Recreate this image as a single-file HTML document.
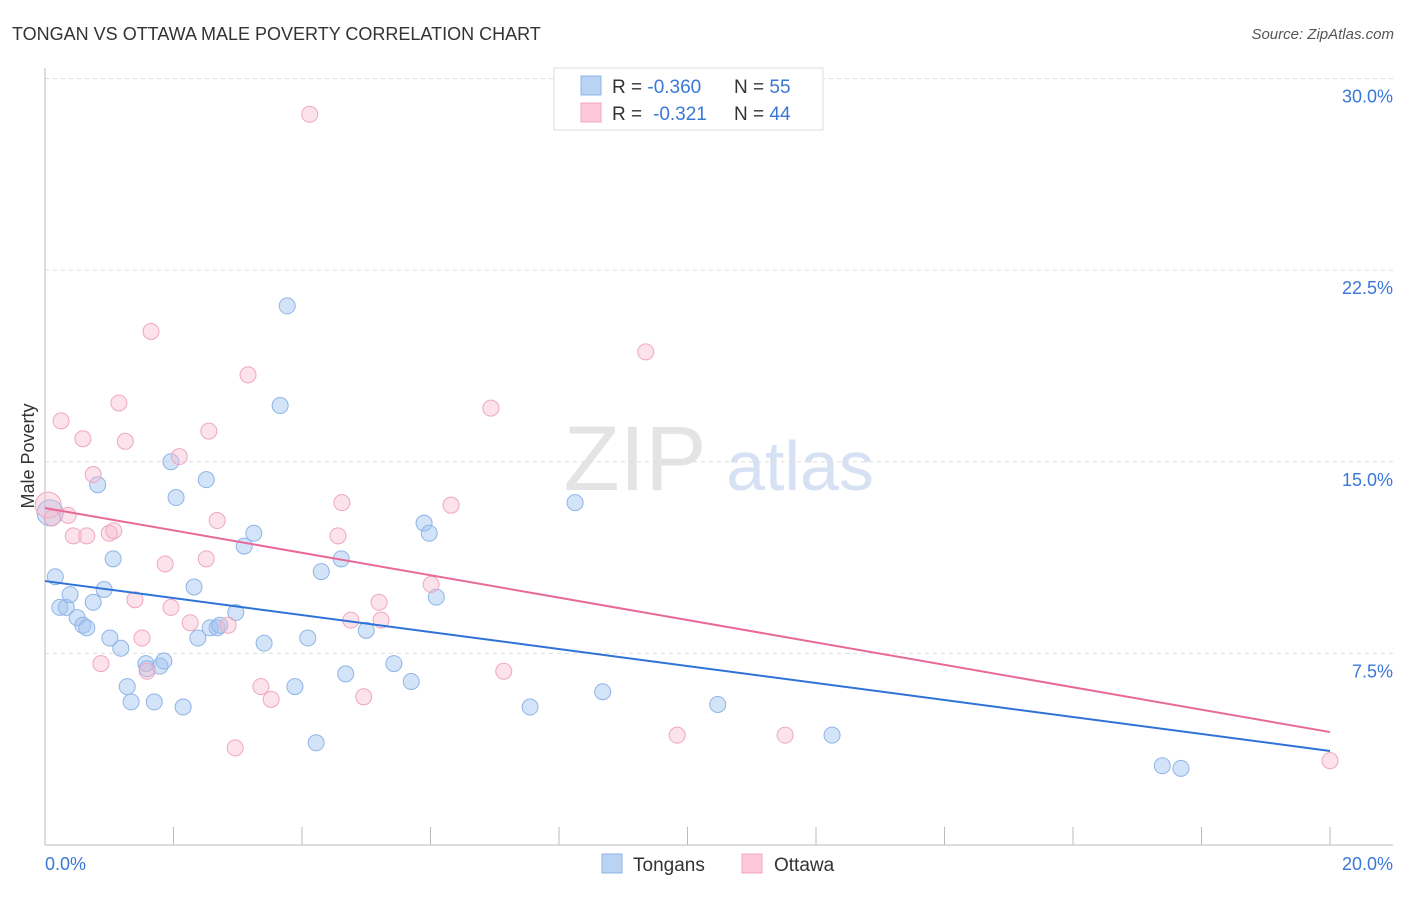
<!DOCTYPE html>
<html><head><meta charset="utf-8"><style>
body{margin:0;background:#fff;font-family:"Liberation Sans",sans-serif;}
svg text{font-family:"Liberation Sans",sans-serif;}
</style></head><body>
<svg id="chart" width="1406" height="892" xmlns="http://www.w3.org/2000/svg">
<text x="12" y="40" font-size="18" fill="#333">TONGAN VS OTTAWA MALE POVERTY CORRELATION CHART</text>
<text x="1394" y="39" font-size="15" fill="#555" font-style="italic" text-anchor="end">Source: ZipAtlas.com</text>
<g>
<text x="635" y="490" font-size="92" font-family="Liberation Serif" fill="#e4e4e4" text-anchor="middle">ZIP</text>
<text x="800" y="490" font-size="70" fill="#d6e2f3" text-anchor="middle">atlas</text>
</g>
<g id="grid"></g>
<g id="axes"></g>
<g id="marks"></g>
<g>
<rect x="554" y="68" width="269" height="62" fill="#fff" stroke="#ddd"/>
<rect x="581" y="76" width="20" height="19" fill="#b9d3f5" stroke="#8fb4e6"/>
<rect x="581" y="103" width="20" height="19" fill="#fbc9d7" stroke="#f0a6bf"/>
<text x="612" y="93" font-size="19" fill="#333">R = <tspan fill="#3a78d8">-0.360</tspan></text>
<text x="734" y="93" font-size="19" fill="#333">N = <tspan fill="#3a78d8">55</tspan></text>
<text x="612" y="120" font-size="19" fill="#333">R = </text>
<text x="653" y="120" font-size="19" fill="#3a78d8">-0.321</text>
<text x="734" y="120" font-size="19" fill="#333">N = <tspan fill="#3a78d8">44</tspan></text>
</g>
<g>
<rect x="602" y="854" width="20" height="19" fill="#b9d3f5" stroke="#8fb4e6"/>
<text x="633" y="871" font-size="19" fill="#333">Tongans</text>
<rect x="742" y="854" width="20" height="19" fill="#fbc9d7" stroke="#f0a6bf"/>
<text x="774" y="871" font-size="19" fill="#333">Ottawa</text>
</g>
<text transform="translate(34,456) rotate(-90)" font-size="18" fill="#333" text-anchor="middle">Male Poverty</text>
</svg>
<script>
const blueX=[0.08,0.16,0.23,0.33,0.39,0.50,0.59,0.65,0.75,0.82,0.92,1.01,1.06,1.18,1.28,1.34,1.57,1.59,1.70,1.79,1.85,1.96,2.04,2.15,2.32,2.38,2.51,2.57,2.68,2.72,2.97,3.10,3.25,3.41,3.77,3.66,3.89,4.09,4.22,4.30,4.61,4.68,5.00,5.43,5.70,5.90,5.98,6.09,7.55,8.25,8.68,10.47,12.25,17.39,17.68];
const blueY=[13.0,10.5,9.3,9.3,9.8,8.9,8.6,8.5,9.5,14.1,10.0,8.1,11.2,7.7,6.2,5.6,7.1,6.9,5.6,7.0,7.2,15.0,13.6,5.4,10.1,8.1,14.3,8.5,8.5,8.6,9.1,11.7,12.2,7.9,21.1,17.2,6.2,8.1,4.0,10.7,11.2,6.7,8.4,7.1,6.4,12.6,12.2,9.7,5.4,13.4,6.0,5.5,4.3,3.1,3.0];
const pinkX=[0.05,0.11,0.25,0.36,0.44,0.59,0.65,0.75,0.87,1.0,1.07,1.15,1.25,1.40,1.51,1.59,1.65,1.87,1.96,2.09,2.26,2.51,2.55,2.68,2.85,2.96,3.16,3.36,3.52,4.12,4.56,4.62,4.76,4.96,5.20,5.23,6.01,6.32,6.94,7.14,9.35,9.84,11.52,20.0];
const pinkY=[13.3,12.8,16.6,12.9,12.1,15.9,12.1,14.5,7.1,12.2,12.3,17.3,15.8,9.6,8.1,6.8,20.1,11.0,9.3,15.2,8.7,11.2,16.2,12.7,8.6,3.8,18.4,6.2,5.7,28.6,12.1,13.4,8.8,5.8,9.5,8.8,10.2,13.3,17.1,6.8,19.3,4.3,4.3,3.3];
const blueTrend=[10.33,3.68];
const pinkTrend=[13.19,4.42];
const yTicks=[7.5,15,22.5,30];
const yTickLabels=["7.5%","15.0%","22.5%","30.0%"];
const xTicksCount=10;

const NS="http://www.w3.org/2000/svg";
const sx=v=>45+v/20*1285;
const sy=v=>845-v*25.55;
function mk(tag,attrs,parent){const e=document.createElementNS(NS,tag);for(const k in attrs)e.setAttribute(k,attrs[k]);parent.appendChild(e);return e;}
const grid=document.getElementById('grid'),axes=document.getElementById('axes'),marks=document.getElementById('marks');
yTicks.forEach((t,i)=>{
  const l=mk('line',{x1:45,x2:1393,y1:sy(t),y2:sy(t),stroke:'#ddd','stroke-dasharray':'4,4'},grid);
  
  
  const tx=mk('text',{x:1393,y:sy(t)+24,'font-size':18,fill:'#3a78d8','text-anchor':'end'},axes);
  tx.textContent=yTickLabels[i];
  
  
});
let a=mk('line',{x1:45,x2:45,y1:68,y2:845,stroke:'#bbb'},axes);


a=mk('line',{x1:45,x2:1393,y1:845,y2:845,stroke:'#bbb'},axes);


for(let i=1;i<=xTicksCount;i++){
  const x=sx(i*2);
  const t=mk('line',{x1:x,x2:x,y1:827,y2:845,stroke:'#bbb'},axes);
  
  
}
let lb=mk('text',{x:45,y:870,'font-size':18,fill:'#3a78d8'},axes);lb.textContent='0.0%';


lb=mk('text',{x:1393,y:870,'font-size':18,fill:'#3a78d8','text-anchor':'end'},axes);lb.textContent='20.0%';



function pts(X,Y,fill,stroke,name){
  X.forEach((x,i)=>{
    const r=(i===0)?13:8;
    const c=mk('circle',{cx:sx(x),cy:sy(Y[i]),r:r,fill:fill,stroke:stroke,'stroke-width':1},marks);
    
    
  });
}
pts(blueX,blueY,'rgba(160,195,240,0.45)','#8fb4e6','tongans-point');
pts(pinkX,pinkY,'rgba(247,185,205,0.4)','#f0a6bf','ottawa-point');
let tl=mk('line',{x1:sx(0),y1:sy(blueTrend[0]),x2:sx(20),y2:sy(blueTrend[1]),stroke:'#2e72d8','stroke-width':2},marks);


tl=mk('line',{x1:sx(0),y1:sy(pinkTrend[0]),x2:sx(20),y2:sy(pinkTrend[1]),stroke:'#e8689a','stroke-width':2},marks);


</script>
</body></html>
